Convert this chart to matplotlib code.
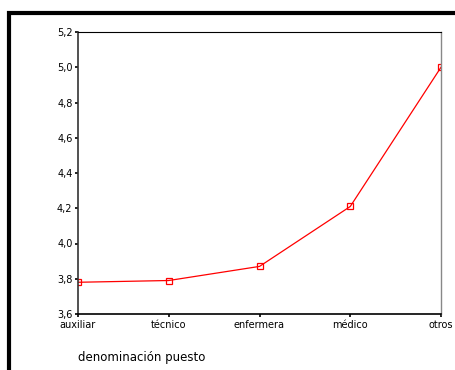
import matplotlib.pyplot as plt
from matplotlib.patches import Rectangle
from matplotlib.ticker import FuncFormatter

categories = ["auxiliar", "técnico", "enfermera", "médico", "otros"]
values = [3.78, 3.79, 3.87, 4.21, 5.00]
yticks = [3.6, 3.8, 4.0, 4.2, 4.4, 4.6, 4.8, 5.0, 5.2]

fig = plt.figure(figsize=(4.55, 3.70), dpi=100)

# thick outer frame (top and left visible, rest cut off)
fig.patches.append(Rectangle((9 / 455, -0.1), 1.2, 1.1 - 13 / 370 + 0.0,
                             transform=fig.transFigure, fill=False,
                             edgecolor="black", linewidth=3))

ax = fig.add_axes([78 / 455, 56 / 370, 363 / 455, 282 / 370])
x = list(range(len(categories)))
ax.plot(x, values, color="red", linewidth=0.9, marker="s", markersize=5,
        markerfacecolor="none", markeredgecolor="red", markeredgewidth=0.9)

ax.set_xlim(0, len(categories) - 1)
ax.set_ylim(3.6, 5.2)
ax.set_xticks(x)
ax.set_xticklabels(categories)
ax.set_yticks(yticks)
ax.yaxis.set_major_formatter(FuncFormatter(lambda v, p: f"{v:.1f}".replace(".", ",")))
ax.tick_params(axis="both", labelsize=7, length=2, width=1.2, direction="out",
               pad=2, colors="black")

ax.spines["left"].set_linewidth(1.2)
ax.spines["left"].set_color("#333333")
ax.spines["bottom"].set_linewidth(1.2)
ax.spines["top"].set_linewidth(0.8)
ax.spines["right"].set_color("#888888")
ax.spines["right"].set_linewidth(1.0)

fig.text(78 / 455, 1 - 357 / 370, "denominación puesto", fontsize=8.5,
         ha="left", va="center")

fig.savefig("out.png", dpi=100)
